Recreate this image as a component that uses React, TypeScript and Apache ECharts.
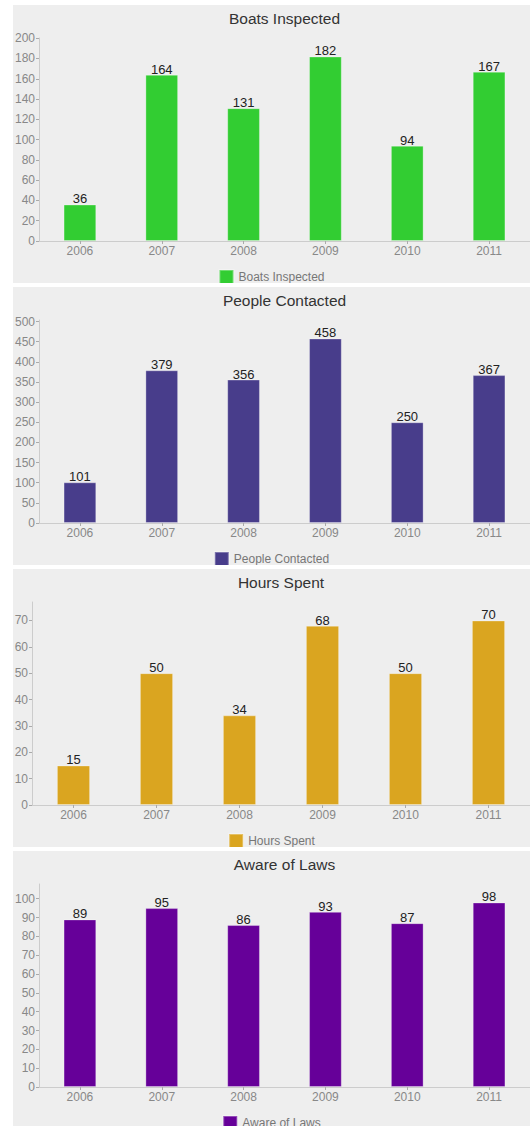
import React, { useEffect, useRef } from 'react';
import * as echarts from 'echarts';

const categories = ['2006', '2007', '2008', '2009', '2010', '2011'];

const boatsInspected = [36, 164, 131, 182, 94, 167];
const peopleContacted = [101, 379, 356, 458, 250, 367];
const hoursSpent = [15, 50, 34, 68, 50, 70];
const awareOfLaws = [89, 95, 86, 93, 87, 98];

const boatsTicks = [0, 20, 40, 60, 80, 100, 120, 140, 160, 180, 200];
const peopleTicks = [0, 50, 100, 150, 200, 250, 300, 350, 400, 450, 500];
const hoursTicks = [0, 10, 20, 30, 40, 50, 60, 70];
const awareTicks = [0, 10, 20, 30, 40, 50, 60, 70, 80, 90, 100];

type Panel = {
  title: string;
  values: number[];
  ticks: number[];
  color: string;
  gridLeft: number;
};

const panels: Panel[] = [
  { title: 'Boats Inspected', values: boatsInspected, ticks: boatsTicks, color: '#32CD32', gridLeft: 26 },
  { title: 'People Contacted', values: peopleContacted, ticks: peopleTicks, color: '#483D8B', gridLeft: 26 },
  { title: 'Hours Spent', values: hoursSpent, ticks: hoursTicks, color: '#DAA520', gridLeft: 19 },
  { title: 'Aware of Laws', values: awareOfLaws, ticks: awareTicks, color: '#660099', gridLeft: 26 },
];

const FONT = '"Liberation Sans", Arial, Helvetica, sans-serif';
const W = 517;
const H = 278;

function ChartPanel({ p }: { p: Panel }) {
  const ref = useRef<HTMLDivElement>(null);
  useEffect(() => {
    if (!ref.current) return;
    const chart = echarts.init(ref.current, null, { renderer: 'svg' });
    const cx = (p.gridLeft + W) / 2;
    const yMax = Math.max(...p.values) * 1.1;
    chart.setOption({
      animation: false,
      backgroundColor: '#eeeeee',
      textStyle: { fontFamily: FONT },
      graphic: [
        {
          type: 'text',
          x: cx,
          y: 13.5,
          style: {
            text: p.title,
            align: 'center',
            verticalAlign: 'middle',
            fontSize: 15.5,
            fontFamily: FONT,
            fill: '#333333',
          },
        },
      ],
      legend: {
        left: 'center',
        top: 259,
        padding: 5,
        icon: 'rect',
        itemWidth: 14,
        itemHeight: 14,
        itemGap: 10,
        textStyle: { fontSize: 12, color: '#777777', fontFamily: FONT },
        data: [p.title],
      },
      grid: {
        left: p.gridLeft,
        right: 0,
        top: 33,
        bottom: 42,
        containLabel: false,
        outerBoundsMode: 'none',
      },
      xAxis: {
        type: 'category',
        data: categories,
        axisLine: { show: true, lineStyle: { color: '#cccccc' } },
        axisTick: { show: true, alignWithLabel: true, length: 3, lineStyle: { color: '#aaaaaa' } },
        axisLabel: { color: '#888888', fontSize: 12, margin: 4, fontFamily: FONT },
        splitLine: { show: false },
      },
      yAxis: {
        type: 'value',
        min: 0,
        max: yMax,
        splitLine: { show: false },
        axisLine: { show: true, lineStyle: { color: '#cccccc' } },
        axisTick: { show: true, length: 3, customValues: p.ticks, lineStyle: { color: '#aaaaaa' } },
        axisLabel: { customValues: p.ticks, color: '#888888', fontSize: 12, margin: 4, fontFamily: FONT },
      },
      series: [
        {
          type: 'bar',
          name: p.title,
          data: p.values,
          barWidth: '40%',
          itemStyle: { color: p.color, borderColor: 'rgba(255,255,255,0.3)', borderWidth: 1 },
          label: {
            show: true,
            position: 'top',
            distance: -1,
            color: '#222222',
            fontSize: 13,
            fontFamily: FONT,
          },
        },
      ],
    });
    return () => chart.dispose();
  }, [p]);
  return <div ref={ref} style={{ width: W, height: H, marginBottom: 4 }} />;
}

export default function App() {
  return (
    <div
      style={{
        position: 'absolute',
        left: 13,
        top: 5,
        width: W,
        height: 1121,
        overflow: 'hidden',
      }}
    >
      {panels.map((p) => (
        <ChartPanel key={p.title} p={p} />
      ))}
    </div>
  );
}
